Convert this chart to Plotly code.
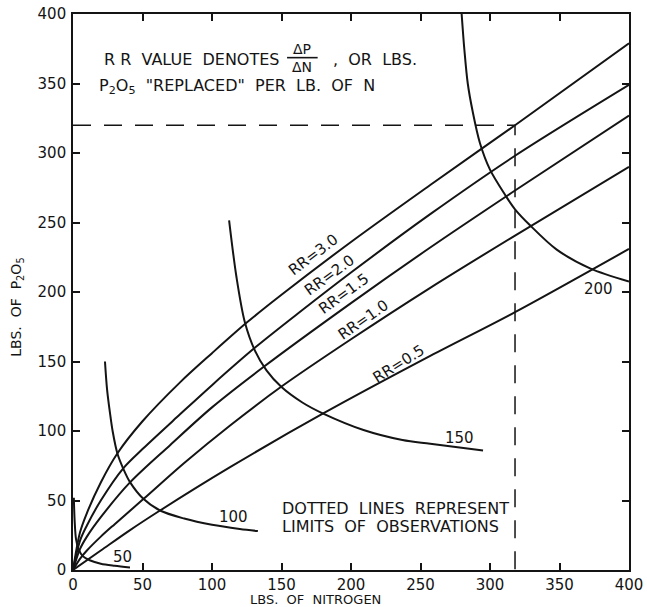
import plotly.graph_objects as go

# RR curves: lbs of N vs lbs of P2O5
rr_names = ["RR=3.0", "RR=2.0", "RR=1.5", "RR=1.0", "RR=0.5"]
rr30_n = [0, 5, 10, 20, 32, 50, 77, 100, 125, 150, 200, 257, 318, 400]
rr30_p = [0, 27, 41, 63, 84, 107, 135, 156, 178, 198, 236, 277, 320, 379]
rr20_n = [0, 5, 10, 20, 36, 50, 77, 100, 131, 165, 200, 257, 318, 400]
rr20_p = [0, 21, 32, 50, 73, 87, 112, 133, 160, 187, 214, 256, 298, 349]
rr15_n = [0, 5, 10, 20, 41, 70, 100, 137, 200, 257, 318, 400]
rr15_p = [0, 15, 24, 38, 63, 90, 117, 146, 192, 232, 273, 327]
rr10_n = [0, 5, 10, 20, 30, 50.6, 80, 113, 150, 200, 257, 318, 400]
rr10_p = [0, 8, 14, 24, 33, 51, 77, 104, 132, 166, 203, 240.6, 290]
rr05_n = [0, 20, 40, 62.6, 113, 180, 257, 318, 400]
rr05_p = [0, 14, 28, 42.8, 74, 112.6, 154, 185.5, 231]

# Iso-curves 50, 100, 150, 200
iso50_n = [0.6, 1.2, 2.2, 4, 7, 12, 20, 30, 41]
iso50_p = [52, 35, 22, 15, 10, 7, 4.5, 3, 1.8]
iso100_n = [23, 24.5, 26.6, 28.5, 32, 36.2, 41, 50.6, 62.6, 80, 100, 120, 133]
iso100_p = [150, 130, 113, 100, 83.6, 72.8, 63.2, 51.2, 42.8, 37, 32.5, 29.5, 28]
iso150_n = [112.3, 117.6, 123.6, 130.8, 139.2, 150, 165, 180, 209, 237, 257, 295]
iso150_p = [251.6, 210.8, 178.4, 158, 143.6, 131.6, 120.5, 112.5, 100.7, 93.5, 90.8, 86]
iso200_n = [279.6, 281.5, 284, 287.5, 292.8, 300, 310.8, 318, 328.8, 348, 372, 400]
iso200_p = [400, 375, 350, 330, 307, 288, 270, 259.5, 248, 230.5, 217, 207.5]
iso_labels = ["50", "100", "150", "200"]
iso_label_n = [35.8, 115.7, 277.7, 377.8]
iso_label_p = [9, 37.8, 94.7, 202]

# Limits of observations
limit_n = 318
limit_p = 320

rr_label_n = [172.8, 184.8, 194.4, 208.8, 234]
rr_label_p = [226.4, 212, 198.8, 179.6, 148.4]
rr_label_angle = [-37, -36, -36, -35, -32]

ticks = [0, 50, 100, 150, 200, 250, 300, 350, 400]

INK = "#141414"
FONT = "DejaVu Sans"

fig = go.Figure()

for xs, ys in [(rr30_n, rr30_p), (rr20_n, rr20_p), (rr15_n, rr15_p),
               (rr10_n, rr10_p), (rr05_n, rr05_p),
               (iso50_n, iso50_p), (iso100_n, iso100_p),
               (iso150_n, iso150_p), (iso200_n, iso200_p)]:
    fig.add_trace(go.Scatter(x=xs, y=ys, mode="lines",
                             line=dict(color=INK, width=2, shape="spline", smoothing=0.9),
                             showlegend=False, hoverinfo="skip", cliponaxis=True))

# dashed limit lines
fig.add_trace(go.Scatter(x=[0, limit_n, limit_n], y=[limit_p, limit_p, 0], mode="lines",
                         line=dict(color=INK, width=1.5, dash="18px,13px"),
                         showlegend=False, hoverinfo="skip"))

ann = []
for t, x, y in zip(iso_labels, iso_label_n, iso_label_p):
    ann.append(dict(x=x, y=y, text=t, showarrow=False, font=dict(size=15, color=INK, family=FONT)))
for t, x, y, a in zip(rr_names, rr_label_n, rr_label_p, rr_label_angle):
    ann.append(dict(x=x, y=y, text=t, showarrow=False, textangle=a,
                    font=dict(size=15, color=INK, family=FONT)))

note_font = dict(size=16, color=INK, family=FONT)
frac_font = dict(size=14, color=INK, family=FONT)
ann += [
    dict(x=20.7, y=367.5, text="R R  VALUE  DENOTES", xanchor="left", showarrow=False, font=note_font),
    dict(x=164.9, y=374.5, text="ΔP", showarrow=False, font=frac_font),
    dict(x=164.9, y=362, text="ΔN", showarrow=False, font=frac_font),
    dict(x=185.5, y=367.5, text=",  OR  LBS.", xanchor="left", showarrow=False, font=note_font),
    dict(x=17.1, y=348, text="P<sub>2</sub>O<sub>5</sub>  \"REPLACED\"  PER  LB.  OF  N",
         xanchor="left", showarrow=False, font=note_font),
    dict(x=148.8, y=44.3, text="DOTTED  LINES  REPRESENT", xanchor="left", showarrow=False, font=note_font),
    dict(x=148.8, y=31.3, text="LIMITS  OF  OBSERVATIONS", xanchor="left", showarrow=False, font=note_font),
    # axis titles
    dict(x=174.4, xref="x", y=-0.053, yref="paper", yanchor="middle", xanchor="center",
         text="LBS.  OF  NITROGEN", showarrow=False,
         font=dict(size=13, color=INK, family=FONT)),
    dict(x=-0.1, xref="paper", y=189, yref="y", xanchor="center", yanchor="middle",
         text="LBS.  OF  P<sub>2</sub>O<sub>5</sub>",
         textangle=-90, showarrow=False, font=dict(size=14, color=INK, family=FONT)),
]

shapes = [dict(type="line", x0=154, x1=176, y0=368.6, y1=368.6,
               line=dict(color=INK, width=1.6))]

axis_common = dict(range=[0, 400], tickvals=ticks, ticks="inside", ticklen=7, tickwidth=1.5,
                   tickcolor=INK, showline=True, linecolor=INK, linewidth=1.6, mirror="ticks",
                   showgrid=False, zeroline=False, automargin=False,
                   tickfont=dict(size=15, color=INK, family=FONT))

fig.update_layout(
    width=647, height=607, autosize=False,
    margin=dict(l=73, r=18, t=14, b=37, autoexpand=False),
    plot_bgcolor="white", paper_bgcolor="white",
    xaxis=dict(**axis_common, ticklabelstandoff=0),
    yaxis=dict(**axis_common, ticklabelstandoff=2),
    annotations=ann,
    shapes=shapes,
)

fig.write_html("out.html")
